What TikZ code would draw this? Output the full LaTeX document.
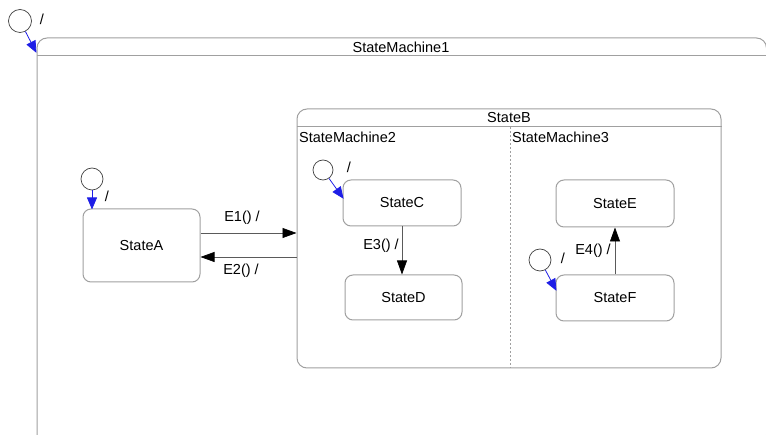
\documentclass[tikz,border=0pt]{standalone}
\usepackage{fontspec}
\setmainfont{Liberation Sans}
\usetikzlibrary{arrows.meta}
\definecolor{boxgray}{HTML}{A0A0A0}
\definecolor{linegray}{HTML}{5A5A5A}
\definecolor{initblue}{HTML}{1E1EE6}
\tikzset{
  every node/.style={font=\fontsize{14.5}{16}\selectfont},
  container/.style={draw=boxgray, line width=1pt, rounded corners=10pt, rectangle, inner sep=0pt},
  statebox/.style={draw=boxgray, line width=1pt, rounded corners=8pt, rectangle, inner sep=0pt},
  initnode/.style={draw=black!75, line width=0.7pt, circle, inner sep=0pt},
  lbl/.style={inner sep=0pt},
  trans/.style={draw=linegray, line width=0.7pt, -{Triangle[length=14pt,width=10pt,color=black]}},
  inittrans/.style={draw=initblue, line width=0.8pt, -{Triangle[length=12pt,width=10pt]}, shorten >=-1pt},
}
\begin{document}
\begin{tikzpicture}[x=1pt,y=-1pt]
\useasboundingbox (0,0) rectangle (766,435);

% outer region
\node[container, minimum width=729.5pt, minimum height=407pt] (SM1) at (401.75,241.5) {};
\draw[boxgray, line width=1pt] (SM1.west |- 0,56) -- (SM1.east |- 0,56);
\node[lbl] (SM1t) at (401,47) {StateMachine1};

% top-level initial pseudostate
\node[initnode, minimum size=23pt] (i0) at (20,21) {};
\node[lbl] (i0s) at (42,19) {/};
\coordinate (i0tip) at (36,52);
\draw[inittrans] (i0) -- (i0tip);

% composite state StateB with two regions
\node[container, minimum width=424pt, minimum height=259pt] (B) at (509,238.5) {};
\draw[boxgray, line width=1pt] (B.west |- 0,127) -- (B.east |- 0,127);
\draw[boxgray, line width=0.6pt, dash pattern=on 2pt off 2pt] (510,127) -- (B.south -| 510,0);
\node[lbl] (Bt) at (509,118) {StateB};
\node[lbl, anchor=west] (SM2t) at (299,137) {StateMachine2};
\node[lbl, anchor=west] (SM3t) at (512,137) {StateMachine3};

% simple states
\node[statebox, minimum width=117pt, minimum height=73pt] (A) at (141.5,245.5) {StateA};
\node[statebox, minimum width=118pt, minimum height=46pt] (C) at (402,203) {StateC};
\node[statebox, minimum width=117pt, minimum height=45pt] (D) at (403.5,297.5) {StateD};
\node[statebox, minimum width=118pt, minimum height=47pt] (E) at (615,203.5) {StateE};
\node[statebox, minimum width=118pt, minimum height=46pt] (F) at (615,298) {StateF};

% initial pseudostates inside
\node[initnode, minimum size=22pt] (iA) at (92,179) {};
\node[lbl] (iAs) at (107,196) {/};
\draw[inittrans] (iA) -- (iA.south |- A.north);

\node[initnode, minimum size=20pt] (iC) at (323,170) {};
\node[lbl] (iCs) at (349,167) {/};
\coordinate (iCtip) at (343,198);
\draw[inittrans] (iC) -- (iCtip);

\node[initnode, minimum size=22pt] (iF) at (540,260) {};
\node[lbl] (iFs) at (563,258) {/};
\coordinate (iFtip) at (556,290);
\draw[inittrans] (iF) -- (iFtip);

% transitions
\draw[trans] ([yshift=12.5pt]A.east) -- ([yshift=12.5pt]A.east -| B.west);
\node[lbl] (e1) at (242,218) {E1() /};
\draw[trans] ([yshift=-11.5pt]A.east -| B.west) -- ([yshift=-11.5pt]A.east);
\node[lbl] (e2) at (241,271) {E2() /};
\draw[trans] (C.south) -- (C.south |- D.north);
\node[lbl] (e3) at (381,246) {E3() /};
\draw[trans] (F.north) -- (E.south);
\node[lbl] (e4) at (593,251) {E4() /};
\end{tikzpicture}
\end{document}
